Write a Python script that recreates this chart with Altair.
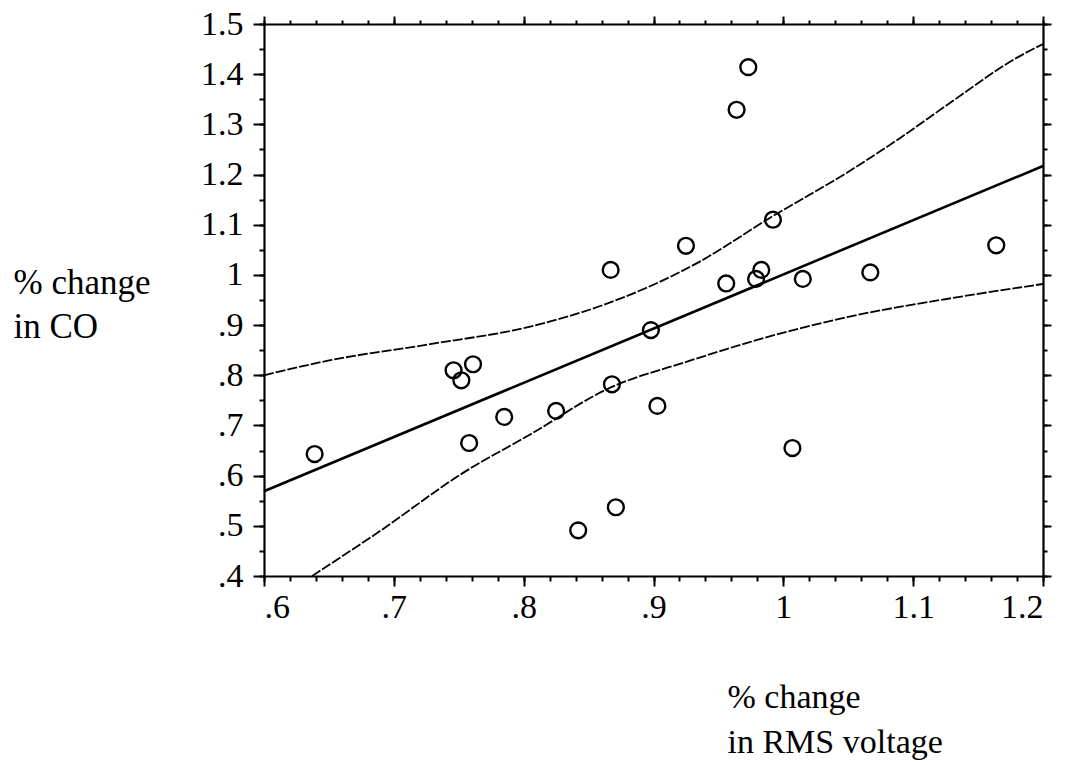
import altair as alt
import pandas as pd

# scatter points (% change in RMS voltage, % change in CO)
pts_x = [0.639, 0.746, 0.752, 0.761, 0.758, 0.785, 0.825, 0.842, 0.867, 0.868, 0.871, 0.898,
         0.903, 0.925, 0.956, 0.964, 0.973, 0.979, 0.983, 0.992, 1.007, 1.015, 1.067, 1.164]
pts_y = [0.643, 0.810, 0.790, 0.822, 0.665, 0.717, 0.729, 0.491, 1.010, 0.782, 0.537, 0.890,
         0.739, 1.058, 0.983, 1.329, 1.414, 0.992, 1.010, 1.110, 0.655, 0.992, 1.005, 1.059]

# fitted regression line
fit_x = [0.6, 1.2]
fit_y = [0.569, 1.217]

# confidence band curves
upper_x = [0.6, 0.651, 0.728, 0.805, 0.859, 0.936, 0.988, 1.051, 1.09, 1.128, 1.18, 1.2]
upper_y = [0.800, 0.830, 0.862, 0.897, 0.938, 1.027, 1.111, 1.207, 1.273, 1.342, 1.433, 1.460]
lower_x = [0.637, 0.689, 0.753, 0.805, 0.864, 0.928, 0.974, 1.051, 1.128, 1.2]
lower_y = [0.400, 0.489, 0.605, 0.682, 0.772, 0.829, 0.866, 0.917, 0.953, 0.982]

# tick values
x_major = [0.6, 0.7, 0.8, 0.9, 1.0, 1.1, 1.2]
x_minor = [round(0.6 + 0.02 * i, 2) for i in range(31)]
y_major = [0.4, 0.5, 0.6, 0.7, 0.8, 0.9, 1.0, 1.1, 1.2, 1.3, 1.4, 1.5]
y_minor = [round(0.4 + 0.05 * i, 2) for i in range(23)]

FONT = "Liberation Serif"
LAB = ("datum.value < 1 ? substring(format(datum.value, '.2~f'), 1) "
       ": format(datum.value, '.2~f')")

df_pts = pd.DataFrame({"x": pts_x, "y": pts_y})
df_fit = pd.DataFrame({"x": fit_x, "y": fit_y})
df_up = pd.DataFrame({"x": upper_x, "y": upper_y})
df_lo = pd.DataFrame({"x": lower_x, "y": lower_y})

XS = alt.Scale(domain=[0.6, 1.2], nice=False, zero=False)
YS = alt.Scale(domain=[0.4, 1.5], nice=False, zero=False)

common = dict(domainColor="black", tickColor="black", grid=False, labelColor="black")


def ax(orient, values, size, labels=False, domain=True, **kw):
    opts = dict(common)
    opts.update(dict(orient=orient, values=values, tickSize=size, labels=labels,
                     domain=domain, domainWidth=2.2, tickWidth=2))
    if "title" not in kw:
        opts["title"] = ""
    opts.update(kw)
    return alt.Axis(**opts)


points = alt.Chart(df_pts).mark_point(
    shape="circle", filled=False, size=250, strokeWidth=2.4, color="black", opacity=1
).encode(
    x=alt.X("x:Q", scale=XS, axis=ax(
        "bottom", x_major, 10, labels=True, labelExpr=LAB, labelFont=FONT,
        labelFontSize=34, labelPadding=4,
        title=["% change", "in RMS voltage"], titleFont=FONT, titleFontSize=34,
        titleFontWeight="normal", titleColor="black", titleAlign="left",
        titleBaseline="alphabetic", titleX=463, titleY=131, titleLineHeight=45)),
    y=alt.Y("y:Q", scale=YS, axis=ax(
        "left", y_major, 11, labels=True, labelExpr=LAB, labelFont=FONT,
        labelFontSize=34, labelPadding=10, labelBaseline="middle",
        title=["% change", "in CO"], titleFont=FONT, titleFontSize=35,
        titleFontWeight="normal", titleColor="black", titleAngle=0,
        titleAlign="left", titleBaseline="alphabetic", titleX=-251, titleY=269,
        titleLineHeight=44)),
)

minor_bl = alt.Chart(df_pts).mark_point(opacity=0).encode(
    x=alt.X("x:Q", scale=XS, axis=ax("bottom", x_minor, 5, domain=False)),
    y=alt.Y("y:Q", scale=YS, axis=ax("left", y_minor, 5, domain=False)),
)
major_tr = alt.Chart(df_pts).mark_point(opacity=0).encode(
    x=alt.X("x:Q", scale=XS, axis=ax("top", x_major, 8)),
    y=alt.Y("y:Q", scale=YS, axis=ax("right", y_major, 8)),
)
minor_tr = alt.Chart(df_pts).mark_point(opacity=0).encode(
    x=alt.X("x:Q", scale=XS, axis=ax("top", x_minor, 4, domain=False)),
    y=alt.Y("y:Q", scale=YS, axis=ax("right", y_minor, 4, domain=False)),
)

fit = alt.Chart(df_fit).mark_line(color="black", strokeWidth=2.6).encode(
    x=alt.X("x:Q", scale=XS, axis=None),
    y=alt.Y("y:Q", scale=YS, axis=None),
)
upper = alt.Chart(df_up).mark_line(
    color="black", strokeWidth=1.8, strokeDash=[10, 2], interpolate="monotone"
).encode(
    x=alt.X("x:Q", scale=XS, axis=None),
    y=alt.Y("y:Q", scale=YS, axis=None),
)
lower = alt.Chart(df_lo).mark_line(
    color="black", strokeWidth=1.8, strokeDash=[10, 2], interpolate="monotone"
).encode(
    x=alt.X("x:Q", scale=XS, axis=None),
    y=alt.Y("y:Q", scale=YS, axis=None),
)

chart = alt.layer(
    minor_bl, major_tr, minor_tr, upper, lower, fit, points
).resolve_axis(
    x="independent", y="independent"
).properties(
    width=779, height=552,
    padding={"left": 264, "top": 24, "right": 39, "bottom": 189},
    autosize=alt.AutoSizeParams(type="none"),
    background="white",
).configure_view(stroke=None)

chart.save("out.html", embed_options={"renderer": "svg", "actions": False})
